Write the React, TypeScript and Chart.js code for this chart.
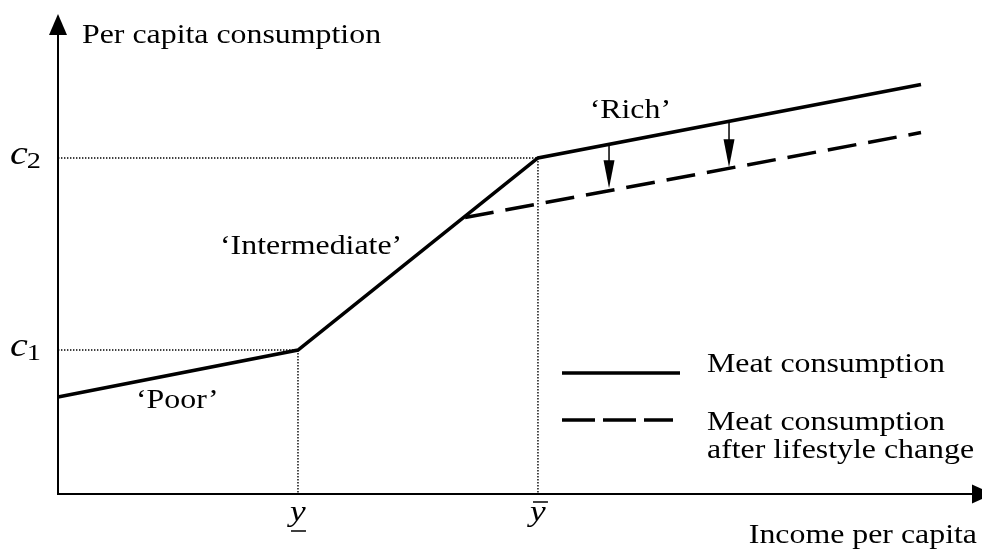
import React, { useEffect, useRef } from "react";
import { Chart, registerables } from "chart.js";

Chart.register(...registerables);

// ---------- data (value space: income 0..100, consumption 0..100) ----------
const X_MAX = 100;
const Y_MAX = 100;
const incomeLow = 26; // y underline
const incomeHigh = 52; // y bar
const incomeEnd = 93.5;
const cLow = 30; // c1
const cHigh = 70; // c2

const meatIncome = [0, incomeLow, incomeHigh, incomeEnd];
const meatConsumption = [20.2, cLow, cHigh, 85.3];
const lifestyleIncome = [44.1, incomeEnd];
const lifestyleConsumption = [57.6, 75.3];

const shiftIncome = [59.7, 72.7];
const shiftFrom = [72.7, 77.35];
const shiftTo = [63.7, 68.06];

const regionNames = ["\u2018Poor\u2019", "\u2018Intermediate\u2019", "\u2018Rich\u2019"];
const regionX = [8.45, 17.55, 57.6];
const regionY = [17.9, 50, 78.3];

const levelLabels = ["1", "2"];
const levelValues = [cLow, cHigh];

const legendLabels = ["Meat consumption", "Meat consumption", "after lifestyle change"];
const xAxisTitle = "Income per capita";
const yAxisTitle = "Per capita consumption";

// ---------- styles ----------
const SX = 1.18;
const FONT = '"Liberation Serif", "Times New Roman", serif';
const TEXT = 27;

function drawText(
  ctx: CanvasRenderingContext2D,
  s: string,
  x: number,
  y: number,
  font: string,
  align: CanvasTextAlign = "left"
) {
  ctx.save();
  ctx.font = font;
  ctx.translate(x, y);
  ctx.scale(SX, 1);
  ctx.textAlign = align;
  ctx.textBaseline = "alphabetic";
  ctx.fillStyle = "#000";
  ctx.fillText(s, 0, 0);
  ctx.restore();
}

function textWidth(ctx: CanvasRenderingContext2D, s: string, font: string) {
  ctx.save();
  ctx.font = font;
  const w = ctx.measureText(s).width * SX;
  ctx.restore();
  return w;
}

function head(
  ctx: CanvasRenderingContext2D,
  tx: number,
  ty: number,
  dx: number,
  dy: number,
  len: number,
  hw: number
) {
  const bx = tx - dx * len;
  const by = ty - dy * len;
  const px = -dy;
  const py = dx;
  ctx.beginPath();
  ctx.moveTo(tx, ty);
  ctx.lineTo(bx + px * hw, by + py * hw);
  ctx.lineTo(bx - px * hw, by - py * hw);
  ctx.closePath();
  ctx.fillStyle = "#000";
  ctx.fill();
}

const overlay = {
  id: "overlay",
  afterDatasetsDraw(chart: any) {
    const ctx: CanvasRenderingContext2D = chart.ctx;
    const xs = chart.scales.x;
    const ys = chart.scales.y;
    const area = chart.chartArea;
    const x0 = xs.getPixelForValue(0);
    const y0 = ys.getPixelForValue(0);

    ctx.save();
    // axes
    ctx.strokeStyle = "#000";
    ctx.lineWidth = 2;
    ctx.beginPath();
    ctx.moveTo(x0, y0);
    ctx.lineTo(x0, area.top + 18);
    ctx.moveTo(x0 - 1, y0);
    ctx.lineTo(area.right - 6, y0);
    ctx.stroke();
    head(ctx, x0, area.top, 0, -1, 21, 9);
    head(ctx, area.right + 12, y0, 1, 0, 21, 9.5);

    // shift arrows
    ctx.lineWidth = 1.5;
    for (let i = 0; i < shiftIncome.length; i++) {
      const px = xs.getPixelForValue(shiftIncome[i]);
      const pf = ys.getPixelForValue(shiftFrom[i]);
      const pt = ys.getPixelForValue(shiftTo[i]);
      ctx.beginPath();
      ctx.moveTo(px, pf);
      ctx.lineTo(px, pt - 20);
      ctx.stroke();
      head(ctx, px, pt, 0, 1, 28, 5.5);
    }

    // axis titles
    const tf = `${TEXT}px ${FONT}`;
    drawText(ctx, yAxisTitle, x0 + 24, 43, tf);
    drawText(ctx, xAxisTitle, 977, 543, tf, "right");

    // region labels
    for (let i = 0; i < regionNames.length; i++) {
      drawText(ctx, regionNames[i], xs.getPixelForValue(regionX[i]), ys.getPixelForValue(regionY[i]), tf);
    }

    // c levels
    const cf = `italic 34px ${FONT}`;
    const sf = `24px ${FONT}`;
    for (let i = 0; i < levelValues.length; i++) {
      const py = ys.getPixelForValue(levelValues[i]);
      drawText(ctx, "c", 10, py + 6, cf);
      drawText(ctx, levelLabels[i], 10 + textWidth(ctx, "c", cf) - 1, py + 10, sf);
    }

    // income ticks
    const yf = `italic 30px ${FONT}`;
    const pl = xs.getPixelForValue(incomeLow);
    const ph = xs.getPixelForValue(incomeHigh);
    drawText(ctx, "y", pl, 521, yf, "center");
    drawText(ctx, "y", ph, 521, yf, "center");
    ctx.lineWidth = 1.5;
    ctx.beginPath();
    ctx.moveTo(pl - 7, 531);
    ctx.lineTo(pl + 8, 531);
    ctx.moveTo(ph - 5, 502);
    ctx.lineTo(ph + 10, 502);
    ctx.stroke();

    // legend
    ctx.lineWidth = 3.5;
    ctx.beginPath();
    ctx.moveTo(562, 373);
    ctx.lineTo(680, 373);
    ctx.stroke();
    ctx.setLineDash([33, 8]);
    ctx.beginPath();
    ctx.moveTo(562, 420);
    ctx.lineTo(673, 420);
    ctx.stroke();
    ctx.setLineDash([]);
    drawText(ctx, legendLabels[0], 707, 372, tf);
    drawText(ctx, legendLabels[1], 707, 430, tf);
    drawText(ctx, legendLabels[2], 707, 458, tf);

    ctx.restore();
  },
};

export default function App() {
  const ref = useRef<HTMLCanvasElement | null>(null);

  useEffect(() => {
    if (!ref.current) return;
    const pts = (xs: number[], ys: number[]) => xs.map((x, i) => ({ x, y: ys[i] }));
    const guideStyle = {
      borderColor: "#000",
      borderWidth: 1.4,
      borderDash: [1.4, 1.6],
      pointRadius: 0,
      showLine: true,
      fill: false,
      clip: false as any,
    };
    const chart = new Chart(ref.current, {
      type: "scatter",
      data: {
        datasets: [
          {
            label: "c1 guide",
            data: pts([0, incomeLow, incomeLow], [cLow, cLow, 0]),
            ...guideStyle,
          },
          {
            label: "c2 guide",
            data: pts([0, incomeHigh, incomeHigh], [cHigh, cHigh, 0]),
            ...guideStyle,
          },
          {
            label: "Meat consumption after lifestyle change",
            data: pts(lifestyleIncome, lifestyleConsumption),
            borderColor: "#000",
            borderWidth: 3.5,
            borderDash: [29, 12],
            pointRadius: 0,
            showLine: true,
            clip: false as any,
          },
          {
            label: "Meat consumption",
            data: pts(meatIncome, meatConsumption),
            borderColor: "#000",
            borderWidth: 3.5,
            borderJoinStyle: "miter",
            pointRadius: 0,
            showLine: true,
            clip: false as any,
          },
        ],
      },
      options: {
        animation: false,
        responsive: false,
        layout: { padding: { left: 58, right: 1, top: 14, bottom: 60 } },
        scales: {
          x: { type: "linear", min: 0, max: X_MAX, display: false },
          y: { type: "linear", min: 0, max: Y_MAX, display: false },
        },
        plugins: {
          legend: { display: false },
          tooltip: { enabled: false },
        },
        events: [],
      },
      plugins: [overlay],
    });
    return () => chart.destroy();
  }, []);

  return (
    <div style={{ position: "absolute", left: 0, top: 0, width: 982, height: 554, background: "#fff" }}>
      <canvas ref={ref} width={982} height={554} style={{ display: "block" }} />
    </div>
  );
}
